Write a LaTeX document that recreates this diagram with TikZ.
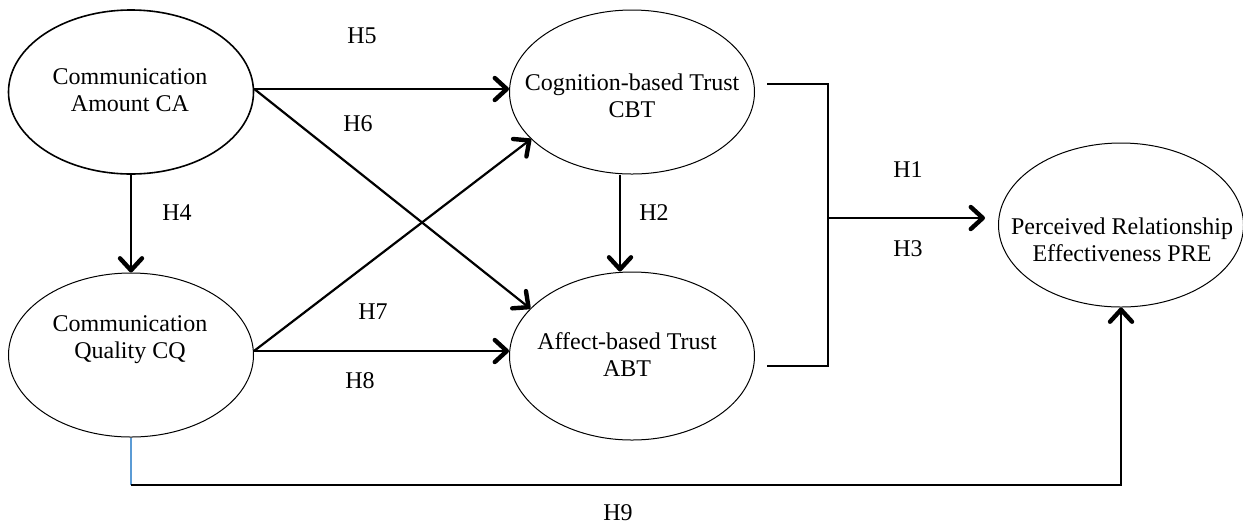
\documentclass[tikz,border=0pt]{standalone}
\usepackage{fontspec}
\setmainfont{Liberation Serif}
\usetikzlibrary{arrows.meta,shapes.geometric,calc}
\begin{document}
\begin{tikzpicture}[x=0.5pt,y=-0.5pt,
  construct/.style={draw, ellipse, line width=0.5pt, minimum width=122.5pt, minimum height=82pt, inner sep=0pt},
  lbl/.style={font=\fontsize{12}{13.5}\selectfont, align=center, inner sep=0pt},
  hyp/.style={font=\fontsize{12}{13.5}\selectfont, inner sep=0pt},
  link/.style={line width=1.1pt},
  arr/.style={link, -{Straight Barb[length=6pt,width=11pt,line width=2.2pt,round]}}
]
\useasboundingbox (0,0) rectangle (1243,527);
% constructs
\node[construct, line width=0.8pt] (CA) at (131,92) {};
\node[construct] (CQ) at (131,355) {};
\node[construct] (CBT) at (632,92) {};
\node[construct, minimum height=84pt] (ABT) at (632,356) {};
\node[construct] (PRE) at (1121,225) {};
% texts
\node[lbl] (tCA) at (130,90) {Communication\\Amount CA};
\node[lbl] (tCQ) at (130,340) {Communication\\Quality CQ};
\node[lbl] (tCBT) at (632,96) {Cognition-based Trust\\CBT};
\node[lbl] (tABT) at (627,355) {Affect-based Trust\\ABT};
\node[lbl] (tPRE) at (1122,240) {Perceived Relationship\\Effectiveness PRE};
% junction points
\coordinate (J) at (828,218);
\coordinate (K) at (131,485);
% connectors
\draw[arr] ([yshift=1.5pt]CA.east) -- ([yshift=1.5pt]CA.east -| CBT.west);
\draw[arr] ([yshift=1.5pt]CA.east) -- (ABT.155);
\draw[arr] (CA.south) -- (CQ.north);
\draw[arr] ([yshift=2pt]CQ.east) -- (CBT.205);
\draw[arr] ([yshift=2pt]CQ.east) -- ([yshift=2pt]CQ.east -| ABT.west);
\draw[arr] ([xshift=-6pt]CBT.south) -- ([xshift=-6pt]ABT.north);
\draw[link] ([shift={(6pt,4pt)}]CBT.east) -| (J);
\draw[link] ([shift={(6pt,-5pt)}]ABT.east) -| (J);
\draw[arr] (J) -- ([xshift=-6.5pt]PRE.west |- J);
\draw[line width=0.8pt, color={rgb,255:red,91;green,155;blue,213}] (CQ.south) -- (K);
\draw[arr] (K) -| (PRE.south);
% hypothesis labels
\node[hyp] (H5) at (362,36) {H5};
\node[hyp] (H6) at (358,124) {H6};
\node[hyp] (H4) at (177,213) {H4};
\node[hyp] (H7) at (373,312) {H7};
\node[hyp] (H8) at (360,381) {H8};
\node[hyp] (H2) at (654,213) {H2};
\node[hyp] (H1) at (908,170) {H1};
\node[hyp] (H3) at (908,249) {H3};
\node[hyp] (H9) at (618,513) {H9};
\end{tikzpicture}
\end{document}
